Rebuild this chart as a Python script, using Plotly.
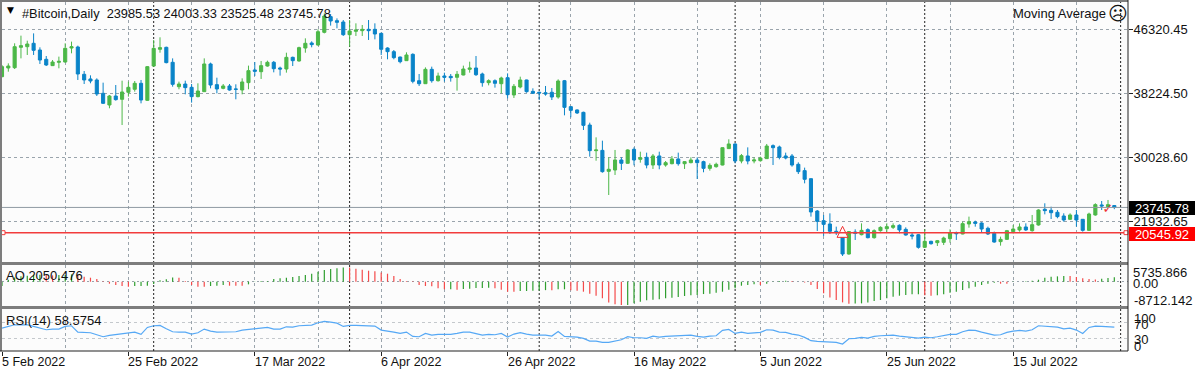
import pandas as pd
import plotly.graph_objects as go

START = "2022-02-05"
opens = [40320,41420,41460,44040,44120,44550,43700,42520,41720,42140,42180,43950,44080,40620,40030,39900,38210,36730,37870,37450,
38340,38720,39480,37320,41670,43790,44040,42140,39050,39390,38970,37790,38420,41930,39310,38840,39140,38760,38630,39560,
41170,40950,41670,42140,41420,41290,42770,42310,43950,44590,44330,45940,47930,47420,47250,45640,46070,46150,46320,46320,
45810,43950,43490,42810,42350,43150,39810,39430,41250,39810,40410,40360,40240,40530,41250,41420,40660,39560,39810,39430,
40190,38000,39010,39900,38460,38340,38290,38340,37740,39810,36520,36100,35800,34190,30940,30980,28320,28490,29760,29340,
31110,29840,30100,29120,30270,29120,29290,29890,29290,29420,29760,29550,28700,28910,29120,31200,31790,29630,30270,29630,
29670,29930,31580,31410,30270,30270,29210,28410,27390,23290,22070,21650,20720,20680,17840,20630,20290,20930,19910,20800,
21050,21220,21480,20970,20250,20290,18690,19450,19280,19320,19790,20550,20380,21650,21900,21770,21100,20460,19410,19700,
20680,20890,21270,20800,21520,23510,23380,23130,22660,22240,22790,22240,20840,22790,24060,23840,23985.53]
highs = [41800,42010,44550,45520,44880,45810,44040,42940,42430,42860,44550,44760,44250,41040,40490,40110,39560,38000,39260,39810,
39690,39770,39900,41670,44970,45310,44120,42640,39690,39810,39390,39480,42640,42100,40190,39390,39390,39350,40110,41720,
42180,42310,42350,42310,41590,43360,42860,44120,45180,44800,46320,48350,48260,47710,47500,47500,47080,46870,47500,47080,
45900,44040,43700,42860,43410,43280,40660,41500,41590,40830,40830,40660,41040,41720,42220,42940,40830,39980,39980,40320,
40740,39390,40320,39940,38840,38420,39140,38880,39980,39900,36600,36180,35880,34490,32630,32210,30100,31030,30100,31110,
31360,30810,30690,30520,30810,29630,30270,30690,29630,30100,30100,29670,29340,29420,31360,32380,31870,30520,31360,30100,
30180,31790,31740,31580,30690,30520,29460,28790,27430,23420,22790,23000,21310,20760,20760,20970,21730,21100,20970,21350,
21730,21730,21600,21220,20550,20380,20970,19530,19620,20040,20970,20680,21940,22580,22070,21860,21310,20680,20040,20890,
21520,21730,21730,22790,23510,24270,23840,23420,23000,23000,23420,22280,23080,24270,24560,24690,24003.33]
lows = [40240,40950,41290,42640,43070,43070,41930,41670,41670,41380,42100,43280,39900,39390,39480,37870,36860,36310,37280,34190,
37790,38420,36940,37240,41590,43360,42010,39050,38720,38080,37030,37700,38380,38840,38210,38720,38550,37450,38080,38720,
40410,40030,41590,40870,40450,40830,41670,42220,43360,44040,44250,45810,46790,46450,45480,44120,45480,45480,44970,45050,
43070,42520,42520,42010,42310,39480,39140,39390,39560,39690,39690,39690,38550,40490,40830,40410,39050,39220,38930,38210,
37570,37620,38840,38290,38120,37360,37910,37360,37530,35420,35170,35590,33560,30180,29670,28150,25320,27860,28490,29290,
29080,29420,28700,28620,28580,28910,29210,29040,28620,29340,27350,28200,28410,28790,29080,31150,29340,29340,29210,29340,
29550,29890,29120,29840,29840,28910,27980,26800,22580,20760,20130,20380,20250,17590,17760,19620,20210,19830,19790,20680,
20630,21010,20460,20170,19700,18520,18600,19030,18860,18980,19280,19620,20340,21180,21310,20550,20250,19280,18900,19620,
20460,20680,20760,20680,21440,22870,22280,22370,21940,22150,21310,20680,20760,22700,23420,23760,23525.48]
closes = [41590,41670,44120,44250,44460,43660,42430,41800,42180,42260,43910,44120,40660,39900,39770,38120,36940,37870,37410,38380,
38970,39480,37360,41590,43910,44000,42100,39350,39390,38930,37790,38500,41930,39260,38760,39140,38630,38720,39650,41080,
41000,41720,42140,41330,41290,42770,42350,44000,44550,44380,46020,48010,47380,47210,45640,46110,46240,46320,46150,45730,
43790,43490,42730,42220,43070,39730,39430,41250,39810,40410,40240,40190,40620,41290,41420,40570,39560,39810,39480,40150,
38040,39100,39900,38420,38210,38250,38120,37740,39770,36430,36050,35720,34150,30940,31030,28280,28580,29760,29340,31030,
29760,30050,29120,30270,29120,29420,29890,29290,29550,29760,29420,28700,29080,29210,31320,31790,29630,30310,29630,29760,
30010,31530,31320,30100,30010,29120,28280,27310,23170,21980,21600,20720,20550,17840,20680,20460,20840,19910,20800,21220,
21310,21440,20890,20250,20130,18690,19450,19150,19530,19870,20550,20420,21690,21940,21730,21010,20380,19360,19700,20800,
21010,21270,20890,21560,23420,23340,23080,22580,22150,22790,22150,20840,22910,24100,23930,24100,23745.78]
ao_values = [-2050,950,2050,2530,2840,3320,3320,3160,3000,3160,3160,3480,3160,2370,1900,1260,160,-950,-1580,-2050,
-2370,-2050,-2040,-1900,-1110,630,1110,2050,1900,320,-1580,-2370,-2400,-2050,-1900,-1580,-1900,-1920,-1940,-1260,
-160,320,340,1260,1580,1900,2210,2690,3160,3790,4740,5530,6000,6320,6790,6760,6160,5690,5210,4900,
4420,3790,2690,1260,320,160,-1580,-2050,-2210,-3160,-3630,-3600,-3790,-3480,-3320,-3000,-2960,-2900,-3160,-3790,
-4740,-4800,-4420,-4400,-4260,-4200,-4000,-4100,-3630,-3600,-4100,-4270,-4740,-5690,-6640,-7900,-9800,-10740,-11060,-11050,
-10270,-9480,-8850,-8530,-8370,-7900,-7580,-7270,-6790,-6480,-6320,-5850,-5690,-5210,-4740,-3790,-3160,-1900,-1580,-1260,
-1580,-950,-160,320,480,320,0,-320,-1580,-3480,-5530,-7430,-8690,-9800,-10400,-10350,-10270,-9800,-9160,-8690,
-7900,-7110,-6640,-6320,-6000,-5950,-6480,-6640,-6480,-6000,-5210,-4740,-3950,-3160,-2370,-1580,-950,-470,-950,-1000,
-160,0,160,470,950,1900,2370,2530,2690,2660,2210,1580,1260,1100,1420,1740,2050.476]
rsi_values = [56.2,60.3,64.3,64.3,64.3,60.3,56.2,52.1,53.7,53.7,60.3,61.9,46.4,44.8,44.8,39.9,35.0,38.2,39.9,42.3,
43.9,46.4,40.7,57.8,61.9,62.7,54.5,47.2,46.4,46.4,41.5,44.8,53.7,48.8,46.4,47.2,46.4,47.2,51.3,52.9,
53.7,56.2,57.8,53.7,53.7,59.4,58.6,61.9,63.5,63.5,69.2,72.5,70.9,68.4,60.3,62.7,62.7,62.7,62.7,61.1,
51.3,49.6,46.4,43.1,46.4,35.8,35.0,43.1,39.1,40.7,40.7,40.7,43.1,46.4,46.4,43.1,39.1,40.7,39.9,43.1,
34.2,41.5,44.8,41.5,39.1,39.1,39.1,36.6,48.0,35.8,35.0,34.2,30.9,24.4,24.4,21.1,21.1,25.2,27.6,35.0,
32.5,32.5,30.9,36.6,34.2,35.8,36.6,36.6,37.4,39.1,35.8,34.2,36.6,37.4,50.5,52.9,43.1,46.4,43.1,43.9,
45.6,52.1,51.3,46.4,45.6,41.5,39.1,33.3,25.2,23.5,22.7,21.9,21.1,17.0,30.1,30.9,33.3,31.7,35.8,37.4,
37.4,39.1,36.6,35.0,34.2,31.7,34.2,32.5,35.0,37.4,40.7,40.7,47.2,51.3,50.5,46.4,42.3,39.1,39.9,45.6,
48.8,50.5,48.8,52.1,61.9,61.1,60.3,58.6,54.5,56.2,51.3,43.1,57.8,61.1,60.3,60.3,58.5754]

price_ticks = [46320.45, 38224.50, 30028.60, 21932.65]
date_labels = ["5 Feb 2022","25 Feb 2022","17 Mar 2022","6 Apr 2022","26 Apr 2022","16 May 2022","5 Jun 2022","25 Jun 2022","15 Jul 2022"]
month_starts = ["2022-03-01","2022-04-01","2022-05-01","2022-06-01","2022-07-01","2022-08-01"]
last_price = 23745.78
line_price = 20545.92
arrow_date, arrow_price = ["2022-06-18"], [21350]
check_date, check_price = ["2022-07-30"], [23500]

assert len(opens)==len(highs)==len(lows)==len(closes)==len(ao_values)==len(rsi_values)==177, (len(opens),len(highs),len(lows),len(closes),len(ao_values),len(rsi_values))

dates = pd.date_range(START, periods=len(opens))
grid_dates = pd.date_range(START, periods=18, freq="10D")
label_dates = pd.date_range(START, periods=len(date_labels), freq="20D")
x_end = pd.Timestamp(START) + pd.Timedelta(days=1126/6.32)
x_range = [pd.Timestamp(START), x_end]

W, H = 1200, 374
XL, XR = 2, 1128
FONT = "Liberation Sans"
GRID = "#9aa4ac"
def py(px): return 1 - px/H
ao_up = "#2f9e2f"
ao_down = "#f44a4a"

def ao_segments(rising):
    xs, ys = [], []
    for i, v in enumerate(ao_values):
        is_up = i == 0 or v >= ao_values[i-1]
        if is_up == rising:
            xs += [dates[i], dates[i], None]
            ys += [0, v, None]
    return xs, ys

fig = go.Figure()
fig.add_trace(go.Candlestick(x=dates, open=opens, high=highs, low=lows, close=closes,
    increasing=dict(line=dict(color="#4cb848", width=1), fillcolor="#4cb848"),
    decreasing=dict(line=dict(color="#0a84c8", width=1), fillcolor="#0a84c8"),
    whiskerwidth=0, showlegend=False, xaxis="x", yaxis="y"))
fig.add_trace(go.Scatter(x=arrow_date, y=arrow_price, mode="markers",
    marker=dict(symbol="arrow-up", size=11, color="#ffffff", line=dict(color="#f03030", width=1)),
    showlegend=False, xaxis="x", yaxis="y"))
fig.add_trace(go.Scatter(x=check_date, y=check_price, mode="text", text=["\u2713"],
    textfont=dict(color="#f03030", size=13, family="DejaVu Sans"), showlegend=False, xaxis="x", yaxis="y"))
for rising, col in [(True, ao_up), (False, ao_down)]:
    sx, sy = ao_segments(rising)
    fig.add_trace(go.Scatter(x=sx, y=sy, mode="lines", line=dict(color=col, width=1.2), connectgaps=False,
        showlegend=False, xaxis="x2", yaxis="y2"))
fig.add_trace(go.Scatter(x=dates, y=rsi_values, mode="lines", line=dict(color="#55a8f5", width=1.2),
    showlegend=False, xaxis="x3", yaxis="y3"))

def xaxis(anchor, extra=None):
    d = dict(domain=[XL/W, XR/W], range=x_range, type="date", anchor=anchor,
        tickmode="array", tickvals=list(grid_dates), showticklabels=False, ticks="",
        showgrid=True, gridcolor=GRID, griddash="3px,3px", gridwidth=1, zeroline=False,
        showline=False, rangeslider=dict(visible=False))
    if extra: d.update(extra)
    return d

fig.update_layout(
    width=W, height=H, margin=dict(l=0, r=0, t=0, b=0), autosize=False,
    paper_bgcolor="#ffffff", plot_bgcolor="#fcfcfc",
    font=dict(family=FONT, size=13, color="#111111"),
    xaxis=xaxis("y"),
    xaxis2=xaxis("y2"),
    xaxis3=xaxis("y3", dict(
        minor=dict(tickmode="array", tickvals=list(label_dates), ticks="outside", ticklen=4, tickcolor="#222222", showgrid=False))),
    yaxis=dict(domain=[py(262), py(2)], range=[46320.45-(262-29.33)*126.75, 46320.45+(29.33-2)*126.75],
        side="right", anchor="x", tickmode="array", tickvals=price_ticks, ticktext=[f"{v:.2f}" for v in price_ticks],
        ticks="outside", ticklen=4, tickcolor="#222222", ticklabelstandoff=-2, showgrid=True, gridcolor=GRID, griddash="3px,3px", zeroline=False),
    yaxis2=dict(domain=[py(306), py(265)], range=[-11518, 7916], side="right", anchor="x2",
        tickmode="array", tickvals=[0], showticklabels=False, ticks="", showgrid=True, gridcolor=GRID, griddash="2px,3px", zeroline=False),
    yaxis3=dict(domain=[py(351), py(309)], range=[0, 103], side="right", anchor="x3",
        tickmode="array", tickvals=[70, 30], showticklabels=False, ticks="", showgrid=True, gridcolor="#c4c8cc", griddash="3px,3px", zeroline=False),
)

shapes = []
for m in month_starts:
    shapes.append(dict(type="line", xref="x", yref="paper", x0=m, x1=m, y0=py(351), y1=py(2),
        line=dict(color="#222222", width=1, dash="2px,2px"), layer="below"))
shapes.append(dict(type="line", xref="paper", yref="y", x0=XL/W, x1=XR/W, y0=last_price, y1=last_price,
    line=dict(color="#8f9aa3", width=1)))
shapes.append(dict(type="line", xref="paper", yref="y", x0=XL/W, x1=XR/W, y0=line_price, y1=line_price,
    line=dict(color="#f23c3c", width=1.5)))
for x0, x1 in [(1/W, 5/W), (1124/W, 1128/W)]:
    shapes.append(dict(type="rect", xref="paper", yref="y", x0=x0, x1=x1, y0=line_price-250, y1=line_price+250,
        line=dict(color="#f23c3c", width=1), fillcolor="#ffffff"))
BAND = "#7d7d7d"
for y0, y1 in [(0, 2), (262, 265), (306, 309)]:
    shapes.append(dict(type="rect", xref="paper", yref="paper", x0=0, x1=XR/W, y0=py(y1), y1=py(y0), fillcolor=BAND, line=dict(width=0)))
shapes.append(dict(type="rect", xref="paper", yref="paper", x0=0, x1=XL/W, y0=py(351), y1=1, fillcolor=BAND, line=dict(width=0)))
shapes.append(dict(type="line", xref="paper", yref="paper", x0=XR/W, x1=XR/W, y0=py(351), y1=1, line=dict(color="#222222", width=1)))
shapes.append(dict(type="line", xref="paper", yref="paper", x0=0, x1=XR/W, y0=py(351), y1=py(351), line=dict(color="#222222", width=1)))
fig.update_layout(shapes=shapes)

def note(x, y, text, anchor="left", **kw):
    a = dict(x=x/W, y=py(y), xref="paper", yref="paper", text=text, showarrow=False,
             xanchor=anchor, yanchor="middle", align="left", font=dict(family=FONT, size=13, color="#111111"))
    a.update(kw)
    return a

anns = [
    note(5, 10, "\u25bc", font=dict(family="DejaVu Sans", size=9, color="#000000")),
    note(20, 13, "#Bitcoin,Daily&nbsp;&nbsp;23985.53 24003.33 23525.48 23745.78", font=dict(family=FONT, size=12.8, color="#111111")),
    note(1011, 13, "Moving Average"),
    note(1106, 13, "\u2639", font=dict(family="DejaVu Sans", size=19, color="#111111")),
    note(4, 275, "AO 2050.476"),
    note(4, 320, "RSI(14) 58.5754"),
    note(1131, 272.5, "5735.866"),
    note(1131, 283, "0.00"),
    note(1132, 300, "-8712.142"),
    note(1132, 318, "100"),
    note(1132, 324, "70"),
    note(1132, 339.5, "30"),
    note(1132, 346, "0"),
    note(1129, 207.5, f"{last_price:.2f}", bgcolor="#000000", font=dict(family=FONT, size=13, color="#ffffff"),
         borderpad=0, borderwidth=0, width=66, height=14, align="center"),
    note(1129, 234.5, f"{line_price:.2f}", bgcolor="#ff0000", font=dict(family=FONT, size=13, color="#ffffff"),
         borderpad=0, borderwidth=0, width=66, height=14, align="center"),
]
for d, t in zip(label_dates, date_labels):
    anns.append(dict(x=d, y=py(362), xref="x", yref="paper", text=t, showarrow=False, xanchor="left", yanchor="middle", xshift=-2,
                     font=dict(family=FONT, size=12.5, color="#111111")))
fig.update_layout(annotations=anns)
fig.write_html("out.html", config={"displayModeBar": False},
               post_script="document.body.style.margin='0';document.body.style.overflow='hidden';")
